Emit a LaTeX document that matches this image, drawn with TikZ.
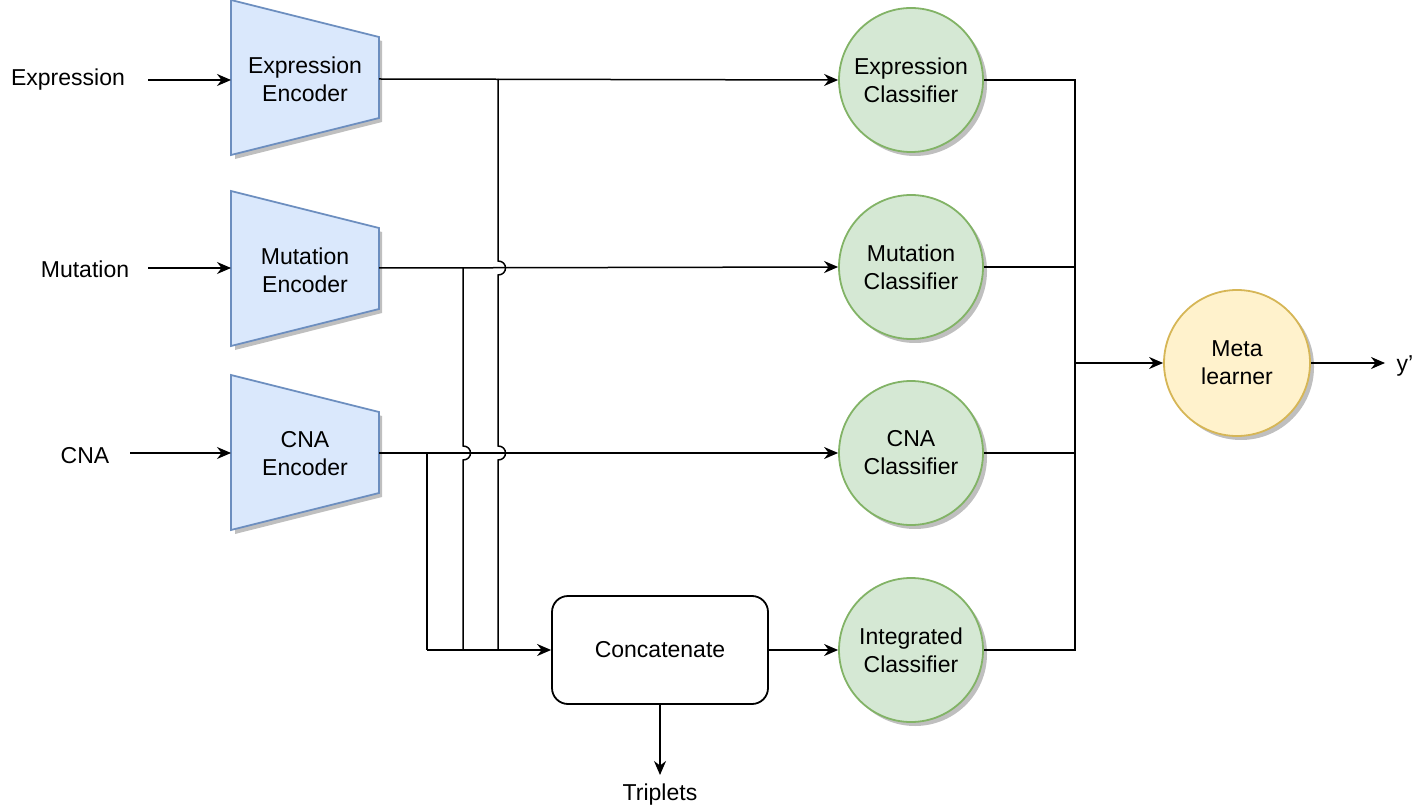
\documentclass[tikz,border=0pt]{standalone}
\usepackage{fontspec}
\setmainfont{Liberation Sans}
\usetikzlibrary{arrows.meta,shapes.geometric}
\definecolor{bfill}{HTML}{DAE8FC}\definecolor{bline}{HTML}{6C8EBF}
\definecolor{gfill}{HTML}{D5E8D4}\definecolor{gline}{HTML}{82B366}
\definecolor{yfill}{HTML}{FFF2CC}\definecolor{yline}{HTML}{D6B656}
\begin{document}
\begin{tikzpicture}[x=0.5pt,y=-0.5pt,font=\fontsize{11.5}{14}\selectfont,
 line width=0.75pt,
 arr/.style={-{Stealth[length=7pt,width=6pt]}},
 circ/.style={circle,minimum size=72pt,inner sep=0pt,align=center,line width=0.9pt},
 sh/.style={fill=black!25,draw=none},
 lbl/.style={inner sep=1pt}]
\useasboundingbox (0,0) rectangle (1417,812);
% encoders
\foreach \y/\t/\n in {0/{Expression\\Encoder}/ee,191/{Mutation\\Encoder}/me,375/{CNA\\Encoder}/ce}{
 \fill[sh] (235,\y+4) -- (382,\y+41) -- (382,\y+122) -- (235,\y+159) -- cycle;
 \draw[bline,fill=bfill,line width=0.9pt] (231,\y) -- (379,\y+37) -- (379,\y+118) -- (231,\y+155) -- cycle;
 \node[align=center] (\n) at (305,\y+79) {\t};
}
\coordinate (eeo) at (379,79); \coordinate (meo) at (379,268); \coordinate (ceo) at (379,453);
% classifiers
\foreach \y/\t/\n in {80/{Expression\\Classifier}/ec,267/{Mutation\\Classifier}/mc,453/{CNA\\Classifier}/cc,650/{Integrated\\Classifier}/ic}{
 \fill[sh] (915,\y+4) circle (72);
 \node[circ,draw=gline,fill=gfill] (\n) at (911,\y) {\t};
}
\fill[sh] (1241,367) circle (73);
\node[circ,minimum size=73pt,draw=yline,fill=yfill] (ml) at (1237,363) {Meta\\learner};
\node[draw,rounded corners=8pt,minimum width=108pt,minimum height=54pt,line width=0.9pt] (cat) at (660,650) {Concatenate};
% inputs
\node[lbl] (ie) at (68,80) {Expression};
\node[lbl] (im) at (85,269) {Mutation};
\node[lbl] (ic2) at (85,456) {CNA};
\draw[arr] (148,80) -- (231,80);
\draw[arr] (148,268) -- (231,268);
\draw[arr] (130,453) -- (231,453);
% encoder outputs
\draw[arr] (eeo) -- (ec.west);
\draw[arr] (meo) -- (mc.west);
\draw[arr] (ceo) -- (cc.west);
% verticals with jumps
\draw (498,79) -- (498,261) .. controls (508,261) and (508,275) .. (498,275) -- (498,446) .. controls (508,446) and (508,460) .. (498,460) -- (498,650);
\draw (463,268) -- (463,446) .. controls (473,446) and (473,460) .. (463,460) -- (463,650);
\draw (427,453) -- (427,650);
\draw[arr] (427,650) -- (cat.west);
\draw[arr] (cat.east) -- (ic.west);
\node[lbl] (tr) at (660,795) {Triplets};
\draw[arr] (cat.south) -- (660,775);
% to meta
\draw (ec.east) -- (1075,80) -- (1075,650) -- (ic.east);
\draw (mc.east) -- (1075,267);
\draw (cc.east) -- (1075,453);
\draw[arr] (1075,363) -- (ml.west);
\node[lbl] (yp) at (1405,366) {y'};
\draw[arr] (ml.east) -- (1385,363);
\end{tikzpicture}
\end{document}
